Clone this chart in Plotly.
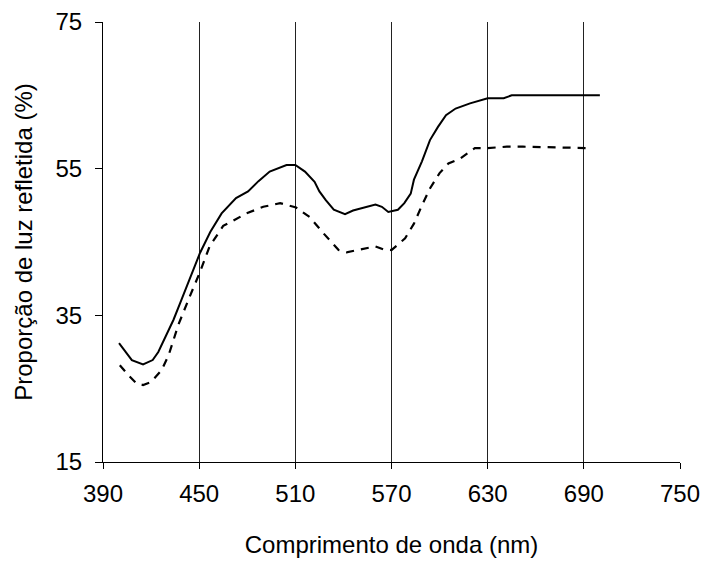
import plotly.graph_objects as go

# Solid curve (upper)
wl_solid = [400, 408, 415, 421, 424.5, 430, 434, 438, 444, 450.5, 457, 464, 473, 480.5, 487, 494, 504.5, 510,
            516, 522, 525, 529, 534, 541, 546, 553, 560, 564, 568, 574, 578, 582, 584, 589, 594, 599,
            604, 610, 619, 630, 640, 645, 660, 680, 700]
y_solid = [31.2, 28.9, 28.3, 28.9, 30.0, 32.5, 34.4, 36.6, 39.8, 43.5, 46.4, 48.9, 51.0, 51.9, 53.3, 54.6, 55.5, 55.5,
           54.6, 53.2, 51.9, 50.7, 49.4, 48.8, 49.3, 49.7, 50.1, 49.8, 49.1, 49.4, 50.3, 51.6, 53.5, 56.0, 58.9, 60.7,
           62.3, 63.2, 63.9, 64.6, 64.6, 65.0, 65.0, 65.0, 65.0]

# Dashed curve (lower)
wl_dash = [400.5, 406, 411, 415, 420, 426.5, 431, 437, 444, 450.5, 456.5, 465, 472, 479.5, 490, 500.5, 510.5,
           519, 527.5, 537, 542, 550, 560, 565, 570, 578.5, 584, 589, 594, 600, 605.5, 613, 622, 630, 642,
           652, 670, 694]
y_dash = [28.2, 26.8, 25.7, 25.5, 25.9, 27.5, 29.6, 33.7, 37.5, 40.9, 44.4, 47.2, 48.0, 48.9, 49.8, 50.3, 49.7,
          48.4, 46.2, 43.9, 43.6, 44.0, 44.4, 44.0, 43.9, 45.5, 47.5, 50.0, 52.3, 54.4, 55.7, 56.4, 57.8, 57.8, 58.0,
          58.0, 57.9, 57.8]

x_ticks = [390, 450, 510, 570, 630, 690, 750]
y_ticks = [15, 35, 55, 75]

fig = go.Figure()
fig.add_trace(go.Scatter(x=wl_solid, y=y_solid, mode="lines",
                         line=dict(color="black", width=2), showlegend=False))
fig.add_trace(go.Scatter(x=wl_dash, y=y_dash, mode="lines",
                         line=dict(color="black", width=2.2, dash="8px,7px"), showlegend=False))

font = dict(family="Liberation Sans, Arial, sans-serif", size=24, color="black")

fig.update_layout(
    width=704, height=562,
    margin=dict(l=103, r=24, t=22, b=100),
    paper_bgcolor="white", plot_bgcolor="white",
    font=font,
    xaxis=dict(range=[390, 750], tickvals=x_ticks, ticks="outside", ticklen=6,
               tickcolor="black", showline=True, linecolor="black", linewidth=1,
               showgrid=True, gridcolor="#222", gridwidth=1, zeroline=False,
               automargin=False, ticklabelstandoff=4,
               title=dict(text="Comprimento de onda (nm)", font=font, standoff=30),
               tickfont=font),
    yaxis=dict(range=[15, 75], tickvals=y_ticks, ticks="outside", ticklen=7,
               tickcolor="black", showline=True, linecolor="black", linewidth=1,
               showgrid=False, zeroline=False, automargin=False, ticklabelstandoff=8,
               title=dict(text="Proporção de luz refletida (%)", font=font, standoff=16),
               tickfont=font),
)

fig.write_html("out.html")
